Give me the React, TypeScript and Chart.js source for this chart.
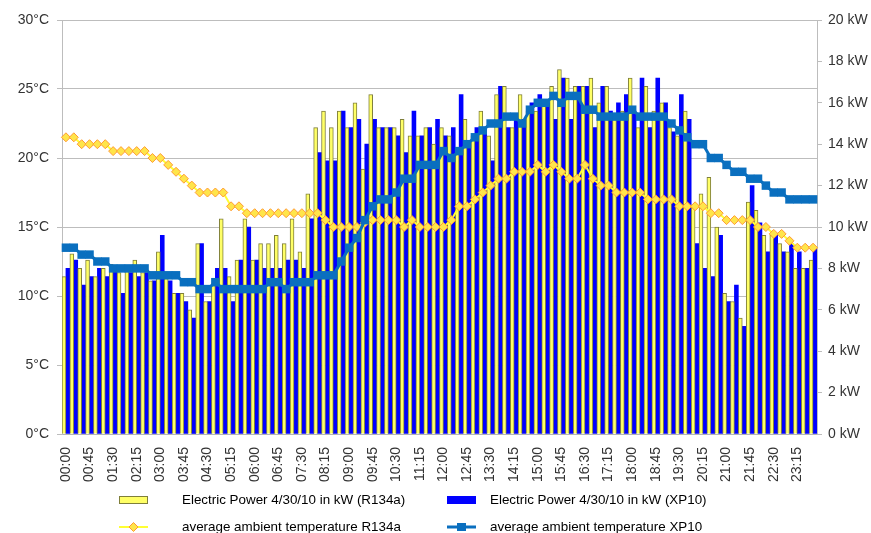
import React, { useEffect, useRef } from 'react';
import { Chart, registerables } from 'chart.js';

Chart.register(...registerables);

const timeLabels = [
  '00:00', '00:15', '00:30', '00:45', '01:00', '01:15', '01:30', '01:45',
  '02:00', '02:15', '02:30', '02:45', '03:00', '03:15', '03:30', '03:45',
  '04:00', '04:15', '04:30', '04:45', '05:00', '05:15', '05:30', '05:45',
  '06:00', '06:15', '06:30', '06:45', '07:00', '07:15', '07:30', '07:45',
  '08:00', '08:15', '08:30', '08:45', '09:00', '09:15', '09:30', '09:45',
  '10:00', '10:15', '10:30', '10:45', '11:00', '11:15', '11:30', '11:45',
  '12:00', '12:15', '12:30', '12:45', '13:00', '13:15', '13:30', '13:45',
  '14:00', '14:15', '14:30', '14:45', '15:00', '15:15', '15:30', '15:45',
  '16:00', '16:15', '16:30', '16:45', '17:00', '17:15', '17:30', '17:45',
  '18:00', '18:15', '18:30', '18:45', '19:00', '19:15', '19:30', '19:45',
  '20:00', '20:15', '20:30', '20:45', '21:00', '21:15', '21:30', '21:45',
  '22:00', '22:15', '22:30', '22:45', '23:00', '23:15', '23:30', '23:45',
];

// Electric power in kW (right axis)
const powerR134a = [
  7.6, 8.7, 8.0, 8.4, 7.6, 8.0, 8.2, 7.8, 8.0, 8.4,
  7.8, 7.4, 8.8, 7.6, 6.8, 6.8, 6.0, 9.2, 6.4, 7.2,
  10.4, 7.6, 8.4, 10.4, 8.4, 9.2, 9.2, 9.6, 9.2, 10.4,
  8.8, 11.6, 14.8, 15.6, 14.8, 15.6, 14.8, 16.0, 12.8, 16.4,
  14.8, 14.8, 14.8, 15.2, 14.4, 14.4, 14.8, 14.0, 14.8, 14.4,
  13.6, 15.2, 14.4, 15.6, 14.4, 16.4, 16.8, 14.8, 16.4, 15.6,
  15.6, 16.0, 16.8, 17.6, 17.2, 16.8, 16.8, 17.2, 16.0, 16.8,
  15.2, 15.6, 17.2, 14.8, 16.8, 15.6, 16.0, 14.8, 14.4, 15.6,
  11.0, 11.6, 12.4, 10.0, 6.8, 6.4, 5.6, 11.2, 10.8, 9.6,
  9.6, 9.2, 8.8, 8.0, 8.0, 8.4,
];

const powerXP10 = [
  8.0, 8.4, 7.2, 7.6, 8.0, 7.6, 8.0, 6.8, 7.8, 7.6,
  7.8, 7.4, 9.6, 7.4, 6.8, 6.4, 5.6, 9.2, 6.4, 8.0,
  8.0, 6.4, 8.4, 10.0, 8.4, 8.0, 8.0, 8.0, 8.4, 8.4,
  8.0, 10.4, 13.6, 13.2, 13.2, 15.6, 14.8, 15.2, 14.0, 15.2,
  14.8, 14.8, 14.4, 13.6, 15.6, 14.4, 14.8, 15.2, 14.4, 14.8,
  16.4, 14.0, 14.8, 14.8, 13.2, 16.8, 14.8, 15.2, 15.2, 16.0,
  16.4, 16.0, 15.2, 17.2, 15.2, 16.8, 16.8, 14.8, 16.8, 15.6,
  16.0, 16.4, 15.6, 17.2, 14.8, 17.2, 16.0, 14.6, 16.4, 15.2,
  9.2, 8.0, 7.6, 9.6, 6.4, 7.2, 5.2, 12.0, 10.2, 8.8,
  9.6, 8.8, 9.2, 8.8, 8.0, 9.0,
];

// Average ambient temperature in °C (left axis)
const tempR134a = [
  21.5, 21.5, 21.0, 21.0, 21.0, 21.0, 20.5, 20.5, 20.5, 20.5,
  20.5, 20.0, 20.0, 19.5, 19.0, 18.5, 18.0, 17.5, 17.5, 17.5,
  17.5, 16.5, 16.5, 16.0, 16.0, 16.0, 16.0, 16.0, 16.0, 16.0,
  16.0, 16.0, 16.0, 15.5, 15.0, 15.0, 15.0, 15.0, 15.3, 15.5,
  15.5, 15.5, 15.5, 15.0, 15.5, 15.0, 15.0, 15.0, 15.0, 15.5,
  16.5, 16.5, 17.0, 17.5, 18.0, 18.5, 18.5, 19.0, 19.0, 19.0,
  19.5, 19.0, 19.5, 19.0, 18.5, 18.5, 19.5, 18.5, 18.0, 18.0,
  17.5, 17.5, 17.5, 17.5, 17.0, 17.0, 17.0, 17.0, 16.5, 16.5,
  16.5, 16.5, 16.0, 16.0, 15.5, 15.5, 15.5, 15.5, 15.0, 15.0,
  14.5, 14.5, 14.0, 13.5, 13.5, 13.5,
];

const tempXP10 = [
  13.5, 13.5, 13.0, 13.0, 12.5, 12.5, 12.0, 12.0, 12.0, 12.0,
  12.0, 11.5, 11.5, 11.5, 11.5, 11.0, 11.0, 10.5, 10.5, 11.0,
  10.5, 10.5, 10.5, 10.5, 10.5, 10.5, 11.0, 11.0, 10.5, 11.0,
  11.0, 11.0, 11.5, 11.5, 11.5, 12.5, 13.5, 14.2, 15.5, 16.5,
  17.0, 17.0, 17.5, 18.5, 18.5, 19.5, 19.5, 19.5, 20.5, 20.0,
  20.5, 21.0, 21.5, 22.0, 22.5, 22.5, 23.0, 23.0, 22.5, 23.5,
  24.0, 24.0, 24.5, 24.0, 24.5, 24.5, 23.5, 23.5, 23.0, 23.0,
  23.0, 23.0, 23.5, 23.0, 23.0, 23.0, 23.0, 22.5, 22.0, 21.5,
  21.0, 21.0, 20.0, 20.0, 19.5, 19.0, 19.0, 18.5, 18.5, 18.0,
  17.5, 17.5, 17.0, 17.0, 17.0, 17.0,
];

const seriesNames = [
  'Electric Power 4/30/10 in kW (R134a)',
  'Electric Power 4/30/10 in kW (XP10)',
  'average ambient temperature R134a',
  'average ambient temperature XP10',
];

const FONT = '"Liberation Sans", Arial, sans-serif';
const YELLOW_FILL = '#ffff66';
const YELLOW_EDGE = '#7f7f3a';
const BLUE_BAR = '#0000ff';
const TEMP_Y_LINE = '#ffff33';
const TEMP_Y_POINT = '#ffe54a';
const TEMP_Y_EDGE = '#ff9a33';
const TEMP_B = '#0a6fbf';

const legendPlugin = {
  id: 'gridLegend',
  afterDraw(chart: any) {
    const ctx = chart.ctx as CanvasRenderingContext2D;
    const ds = chart.data.datasets;
    ctx.save();
    ctx.font = '13.4px ' + FONT;
    ctx.fillStyle = '#000';
    ctx.textBaseline = 'middle';
    ctx.textAlign = 'left';

    const row1 = 500;
    const row2 = 527;
    const col1Sym = 119;
    const col2Sym = 447;
    const col1Txt = 182;
    const col2Txt = 490;

    // bar R134a
    ctx.fillStyle = YELLOW_FILL;
    ctx.fillRect(col1Sym, row1 - 4, 29, 8);
    ctx.strokeStyle = YELLOW_EDGE;
    ctx.lineWidth = 1;
    ctx.strokeRect(col1Sym + 0.5, row1 - 3.5, 28, 7);
    // bar XP10
    ctx.fillStyle = BLUE_BAR;
    ctx.fillRect(col2Sym, row1 - 4, 29, 8);

    // line R134a
    ctx.strokeStyle = TEMP_Y_LINE;
    ctx.lineWidth = 2;
    ctx.beginPath();
    ctx.moveTo(col1Sym, row2);
    ctx.lineTo(col1Sym + 29, row2);
    ctx.stroke();
    ctx.fillStyle = TEMP_Y_POINT;
    ctx.strokeStyle = TEMP_Y_EDGE;
    ctx.lineWidth = 1;
    const cx = col1Sym + 14.5;
    ctx.beginPath();
    ctx.moveTo(cx, row2 - 4.5);
    ctx.lineTo(cx + 4.5, row2);
    ctx.lineTo(cx, row2 + 4.5);
    ctx.lineTo(cx - 4.5, row2);
    ctx.closePath();
    ctx.fill();
    ctx.stroke();

    // line XP10
    ctx.strokeStyle = TEMP_B;
    ctx.lineWidth = 3;
    ctx.beginPath();
    ctx.moveTo(col2Sym, row2);
    ctx.lineTo(col2Sym + 29, row2);
    ctx.stroke();
    ctx.fillStyle = TEMP_B;
    ctx.fillRect(col2Sym + 14.5 - 4.5, row2 - 4, 9, 8);

    ctx.fillStyle = '#000';
    ctx.fillText(ds[0].label, col1Txt, row1);
    ctx.fillText(ds[1].label, col2Txt, row1);
    ctx.fillText(ds[2].label, col1Txt, row2);
    ctx.fillText(ds[3].label, col2Txt, row2);
    ctx.restore();
  },
};

export default function App() {
  const canvasRef = useRef<HTMLCanvasElement | null>(null);

  useEffect(() => {
    const canvas = canvasRef.current;
    if (!canvas) return;
    const chart = new Chart(canvas, {
      type: 'bar',
      data: {
        labels: timeLabels,
        datasets: [
          {
            type: 'bar',
            label: seriesNames[0],
            data: powerR134a,
            yAxisID: 'kw',
            backgroundColor: YELLOW_FILL,
            borderColor: YELLOW_EDGE,
            borderWidth: 1,
            categoryPercentage: 1.0,
            barPercentage: 1.0,
            order: 2,
          },
          {
            type: 'bar',
            label: seriesNames[1],
            data: powerXP10,
            yAxisID: 'kw',
            backgroundColor: BLUE_BAR,
            borderWidth: 0,
            categoryPercentage: 1.0,
            barPercentage: 1.0,
            order: 3,
          },
          {
            type: 'line',
            label: seriesNames[2],
            data: tempR134a,
            yAxisID: 'temp',
            borderColor: TEMP_Y_LINE,
            borderWidth: 2,
            pointStyle: 'rectRot',
            pointRadius: 4.5,
            pointBackgroundColor: TEMP_Y_POINT,
            pointBorderColor: TEMP_Y_EDGE,
            pointBorderWidth: 1,
            tension: 0,
            order: 1,
          },
          {
            type: 'line',
            label: seriesNames[3],
            data: tempXP10,
            yAxisID: 'temp',
            borderColor: TEMP_B,
            borderWidth: 3,
            pointStyle: 'rect',
            pointRadius: 6,
            pointBackgroundColor: TEMP_B,
            pointBorderColor: TEMP_B,
            pointBorderWidth: 0,
            tension: 0,
            order: 0,
          },
        ],
      } as any,
      options: {
        responsive: false,
        animation: false,
        devicePixelRatio: 1,
        layout: { padding: { top: 20, left: 0, right: 0, bottom: 0 } },
        plugins: {
          legend: { display: false },
          tooltip: { enabled: false },
        },
        scales: {
          x: {
            grid: { display: false, drawTicks: false },
            border: { display: true, color: '#b4b4b4' },
            ticks: {
              autoSkip: false,
              maxRotation: 90,
              minRotation: 90,
              padding: 13,
              color: '#333',
              font: { family: FONT, size: 14 },
              callback: function (this: any, value: any, index: number) {
                return index % 3 === 0 ? timeLabels[index] : '';
              },
            },
            afterFit: (scale: any) => {
              scale.height = 99;
            },
          },
          temp: {
            type: 'linear',
            position: 'left',
            min: 0,
            max: 30,
            ticks: {
              stepSize: 5,
              padding: 8,
              color: '#333',
              font: { family: FONT, size: 14 },
              callback: (v: any) => v + '°C',
            },
            grid: { color: '#bdbdbd', tickLength: 5 },
            border: { color: '#bdbdbd' },
            afterFit: (scale: any) => {
              scale.width = 62;
            },
          },
          kw: {
            type: 'linear',
            position: 'right',
            min: 0,
            max: 20,
            ticks: {
              stepSize: 2,
              padding: 6,
              color: '#333',
              font: { family: FONT, size: 14 },
              callback: (v: any) => v + ' kW',
            },
            grid: { drawOnChartArea: false, color: '#bdbdbd', tickLength: 5 },
            border: { color: '#bdbdbd' },
            afterFit: (scale: any) => {
              scale.width = 54;
            },
          },
        },
      } as any,
      plugins: [legendPlugin],
    });
    return () => chart.destroy();
  }, []);

  return (
    <div style={{ position: 'fixed', left: 0, top: 0, width: 871, height: 533, background: '#fff' }}>
      <canvas ref={canvasRef} width={871} height={533} style={{ display: 'block' }} />
    </div>
  );
}
